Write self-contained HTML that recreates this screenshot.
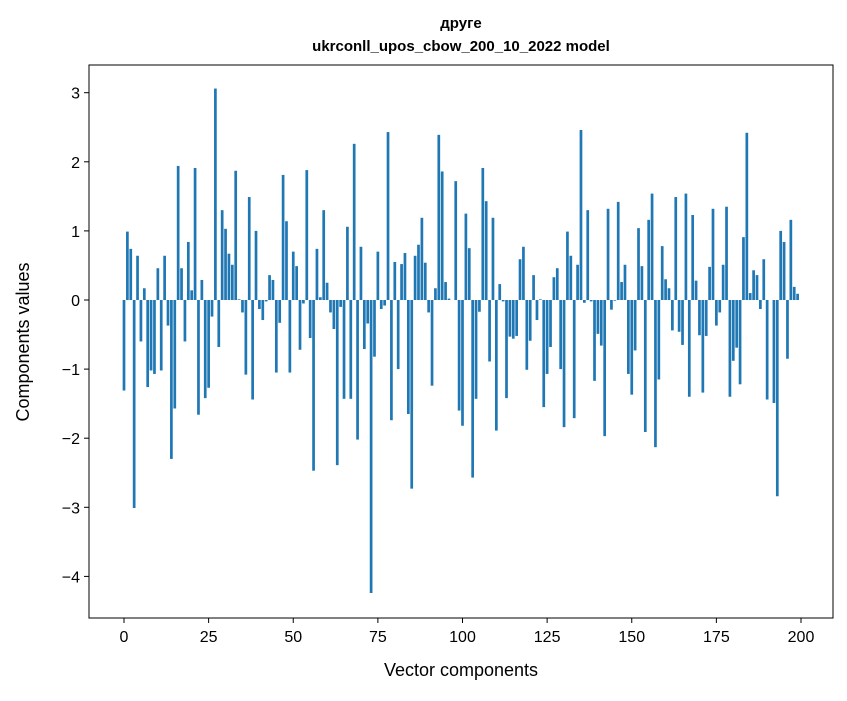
<!DOCTYPE html>
<html><head><meta charset="utf-8"><style>
body{margin:0;background:#fff}
svg text{font-family:"Liberation Sans","DejaVu Sans",sans-serif;fill:#000}
</style></head><body>
<svg id="chart" width="847" height="696" viewBox="0 0 847 696" xmlns="http://www.w3.org/2000/svg">
<rect width="847" height="696" fill="#fff"/>
<text x="461" y="28" text-anchor="middle" font-size="15" font-weight="bold">друге</text>
<text x="461" y="51" text-anchor="middle" font-size="15" font-weight="bold">ukrconll_upos_cbow_200_10_2022 model</text>
<g id="bars"></g>
<g id="xaxis"></g>
<g id="yaxis"></g>
<rect x="89" y="65" width="744" height="553" fill="none" stroke="#000" stroke-width="1"/>
<text x="461" y="676" text-anchor="middle" font-size="18">Vector components</text>
<text transform="translate(29,342) rotate(-90)" text-anchor="middle" font-size="18">Components values</text>
</svg>
<script>
const values = [-1.31,0.99,0.74,-3.01,0.64,-0.60,0.17,-1.26,-1.02,-1.07,0.46,-1.02,0.64,-0.37,-2.30,-1.57,1.94,0.46,-0.60,0.84,
0.14,1.91,-1.66,0.29,-1.42,-1.27,-0.24,3.06,-0.68,1.30,1.03,0.67,0.51,1.87,0.01,-0.18,-1.08,1.49,-1.44,1.00,
-0.13,-0.29,-0.02,0.36,0.29,-1.05,-0.33,1.81,1.14,-1.05,0.70,0.49,-0.72,-0.05,1.88,-0.55,-2.47,0.74,0.04,1.30,
0.25,-0.18,-0.42,-2.39,-0.10,-1.43,1.06,-1.43,2.26,-2.02,0.77,-0.71,-0.34,-4.24,-0.82,0.70,-0.13,-0.08,2.43,-1.74,
0.55,-1.00,0.52,0.68,-1.65,-2.73,0.64,0.80,1.19,0.54,-0.18,-1.24,0.17,2.39,1.86,0.26,0.02,0.00,1.72,-1.60,
-1.82,1.25,0.75,-2.57,-1.43,-0.17,1.91,1.43,-0.89,1.19,-1.89,0.23,-0.02,-1.42,-0.53,-0.56,-0.52,0.59,0.77,-1.01,
-0.59,0.36,-0.29,0.01,-1.55,-1.07,-0.68,0.33,0.46,-1.00,-1.84,0.99,0.64,-1.71,0.51,2.46,-0.04,1.30,-0.02,-1.17,
-0.49,-0.66,-1.97,1.32,-0.14,-0.01,1.42,0.26,0.51,-1.07,-1.37,-0.73,1.04,0.49,-1.91,1.16,1.54,-2.13,-1.15,0.78,
0.30,0.17,-0.44,1.49,-0.46,-0.65,1.54,-1.40,1.23,0.28,-0.51,-1.34,-0.52,0.48,1.32,-0.37,-0.18,0.51,1.35,-1.40,
-0.88,-0.69,-1.22,0.91,2.42,0.10,0.43,0.36,-0.13,0.59,-1.44,0.00,-1.49,-2.84,1.00,0.84,-0.85,1.16,0.19,0.09];
const xTicks = [0,25,50,75,100,125,150,175,200];
const yTicks = [-4,-3,-2,-1,0,1,2,3];
const yTickLabels = ["\u22124","\u22123","\u22122","\u22121","0","1","2","3"];

const NS="http://www.w3.org/2000/svg";
function xs(v){return 124+(801-124)*v/200;}
function ys(v){return 300-69.1*v;}
const bars=document.getElementById('bars');
values.forEach((v,i)=>{
  const r=document.createElementNS(NS,'rect');
  const w=xs(0.8)-xs(0);
  r.setAttribute('x',xs(i)-w/2);
  r.setAttribute('y',Math.min(ys(v),ys(0)));
  r.setAttribute('width',w);
  r.setAttribute('height',Math.abs(ys(v)-ys(0)));
  r.setAttribute('fill','#1f77b4');
  
  
  bars.appendChild(r);
});
const xa=document.getElementById('xaxis');
xTicks.forEach(t=>{
  const l=document.createElementNS(NS,'line');
  l.setAttribute('x1',xs(t));l.setAttribute('x2',xs(t));
  l.setAttribute('y1',618);l.setAttribute('y2',623);
  l.setAttribute('stroke','#000');
  
  
  xa.appendChild(l);
  const tx=document.createElementNS(NS,'text');
  tx.setAttribute('x',xs(t));tx.setAttribute('y',642);
  tx.setAttribute('text-anchor','middle');tx.setAttribute('font-size','16');
  tx.textContent=t;
  
  
  xa.appendChild(tx);
});
const ya=document.getElementById('yaxis');
yTicks.forEach((t,i)=>{
  const l=document.createElementNS(NS,'line');
  l.setAttribute('x1',84);l.setAttribute('x2',89);
  l.setAttribute('y1',ys(t));l.setAttribute('y2',ys(t));
  l.setAttribute('stroke','#000');
  
  
  ya.appendChild(l);
  const tx=document.createElementNS(NS,'text');
  tx.setAttribute('x',80);tx.setAttribute('y',ys(t)+6);
  tx.setAttribute('text-anchor','end');tx.setAttribute('font-size','16');
  tx.textContent=yTickLabels[i];
  
  
  ya.appendChild(tx);
});
</script>
</body></html>
